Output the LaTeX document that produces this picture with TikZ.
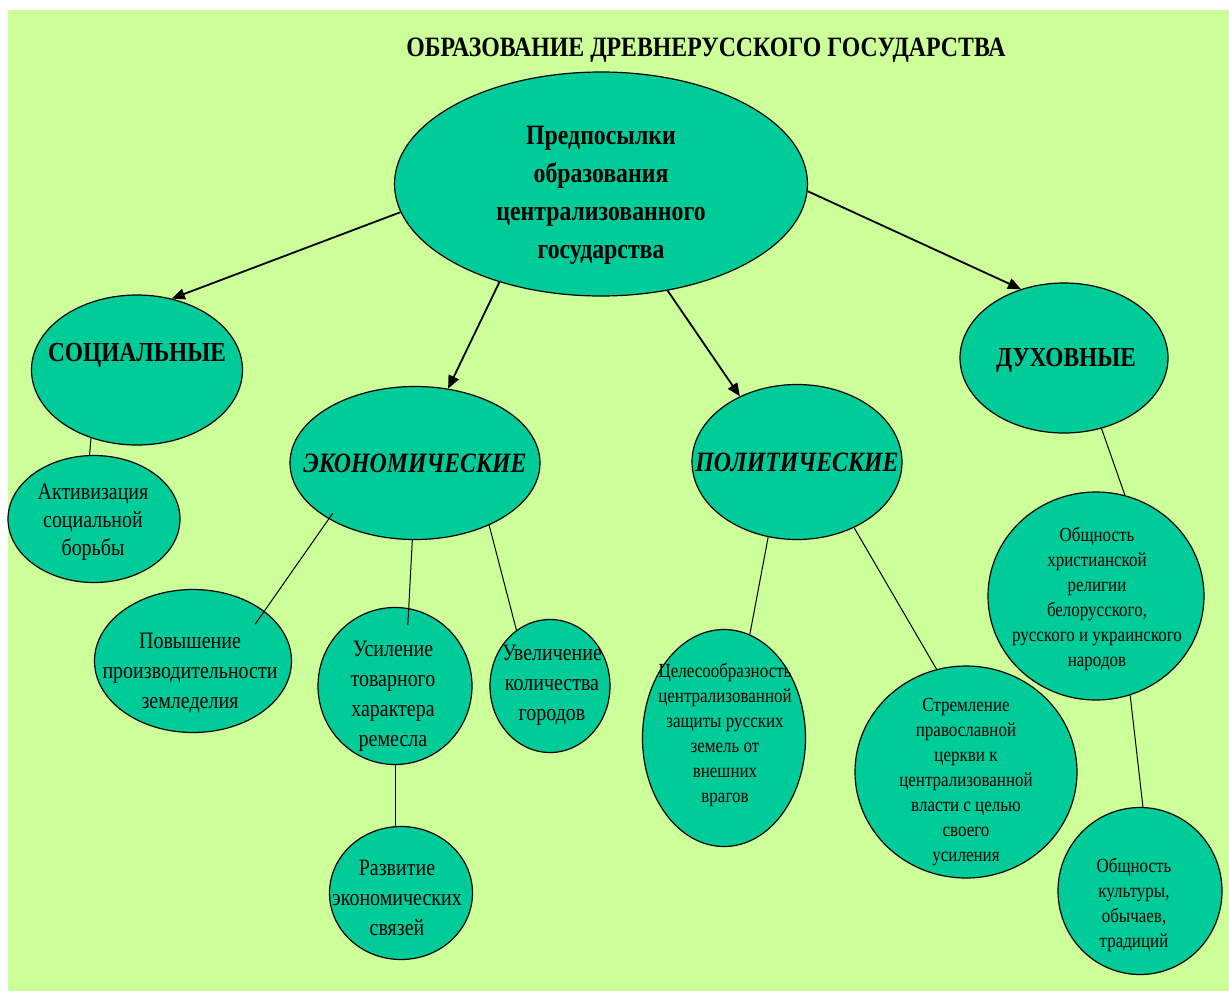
\documentclass[tikz,border=0pt]{standalone}
\usepackage{fontspec}
\setmainfont{Liberation Serif}[FakeStretch=0.85]
\usetikzlibrary{arrows.meta,shapes.geometric}
\definecolor{bggreen}{HTML}{CCFF99}
\definecolor{bubgreen}{HTML}{00CC99}
\newcommand{\fsz}[2]{\fontsize{#1}{#2}\selectfont}

\begin{document}
\begin{tikzpicture}[x=1pt,y=-1pt]
    \tikzset{bubble/.style = {shape=ellipse, draw=black, line width=1.2pt, fill=bubgreen, inner sep=0pt}}
    \tikzset{caption/.style = {inner sep=0pt, align=center, font=\fsz{23.5}{30}}}
    \tikzset{small/.style = {inner sep=0pt, align=center, font=\fsz{20}{25}}}
    \tikzset{head/.style = {inner sep=0pt, font=\bfseries\fsz{27.5}{30}}}
    \tikzset{edge/.style = {draw=black, line width=1.8pt, -{Triangle[length=13pt,width=11pt]}}}
    \tikzset{link/.style = {draw=black, line width=1pt}}

    % background
    \useasboundingbox (0,0) rectangle (1229,991);
    \fill[bggreen] (8,10) rectangle (1229,991);
    \node[inner sep=0pt, font=\bfseries\fsz{28}{30}] (title) at (706,50) {ОБРАЗОВАНИЕ ДРЕВНЕРУССКОГО ГОСУДАРСТВА};

    % vertices
    \node[bubble, minimum width=413, minimum height=224] (pre) at (601,184) {};
    \node[bubble, minimum width=211, minimum height=150] (soc) at (137,370) {};
    \node[bubble, minimum width=250, minimum height=153] (eco) at (415,463) {};
    \node[bubble, minimum width=210, minimum height=155] (pol) at (797,462) {};
    \node[bubble, minimum width=208, minimum height=150] (duh) at (1064,358) {};
    \node[bubble, minimum width=172, minimum height=127] (akt) at (94,519) {};
    \node[bubble, minimum width=197, minimum height=143] (pov) at (193,661) {};
    \node[bubble, minimum width=154, minimum height=157] (usi) at (395,686) {};
    \node[bubble, minimum width=120, minimum height=133] (uve) at (550,686) {};
    \node[bubble, minimum width=143, minimum height=133] (raz) at (401,893) {};
    \node[bubble, minimum width=163, minimum height=217] (cel) at (724,738) {};
    \node[bubble, minimum width=222, minimum height=212] (str) at (966,772) {};
    \node[bubble, minimum width=216, minimum height=208] (obs) at (1096,596) {};
    \node[bubble, minimum width=164, minimum height=167] (kul) at (1140,891) {};

    % texts
    \node[inner sep=0pt, align=center, font=\bfseries\fsz{28}{38}] (pre-t) at (601,195) {Предпосылки\\образования\\централизованного\\государства};
    \node[head] (soc-t) at (137,355) {СОЦИАЛЬНЫЕ};
    \node[head, font=\bfseries\itshape\fsz{28}{30}] (eco-t) at (415,463) {ЭКОНОМИЧЕСКИЕ};
    \node[head, font=\bfseries\itshape\fsz{28}{30}] (pol-t) at (797,462) {ПОЛИТИЧЕСКИЕ};
    \node[head] (duh-t) at (1066,360) {ДУХОВНЫЕ};
    \node[caption, font=\fsz{23.5}{28}] (akt-t) at (93,522) {Активизация\\социальной\\борьбы};
    \node[caption] (pov-t) at (190,673) {Повышение\\производительности\\земледелия};
    \node[caption] (usi-t) at (393,696) {Усиление\\товарного\\характера\\ремесла};
    \node[caption] (uve-t) at (552,685) {Увеличение\\количества\\городов};
    \node[caption] (raz-t) at (397,898) {Развитие\\экономических\\связей};
    \node[small] (cel-t) at (725,735) {Целесообразность\\централизованной\\защиты русских\\земель от\\внешних\\врагов};
    \node[small] (str-t) at (966,782) {Стремление\\православной\\церкви к\\централизованной\\власти с целью\\своего\\усиления};
    \node[small] (obs-t) at (1097,599) {Общность\\христианской\\религии\\белорусского,\\русского и украинского\\народов};
    \node[small] (kul-t) at (1134,905) {Общность\\культуры,\\обычаев,\\традиций};

    % edges
    \draw[edge] (pre.188) to (soc.64);
    \draw[edge] (pre.224) to (eco.66);
    \draw[edge] (pre.302.5) to (pol.131);
    \draw[edge] (pre.358) to (duh.122);
    \draw[link] (soc.236) to (akt.94.5);
    \draw[link, shorten <=-7pt, shorten >=-16pt] (eco.213) to (pov.35.7);
    \draw[link, shorten >=-17pt] (eco.268.5) to (usi.80);
    \draw[link] (eco.320) to (uve.121.6);
    \draw[link] (usi.south) to (usi.south |- raz.north);
    \draw[link] (pol.249) to (cel.76);
    \draw[link] (pol.311.7) to (str.106);
    \draw[link] (duh.298) to (obs.74);
    \draw[link] (obs.289) to (kul.88.5);
\end{tikzpicture}
\end{document}
